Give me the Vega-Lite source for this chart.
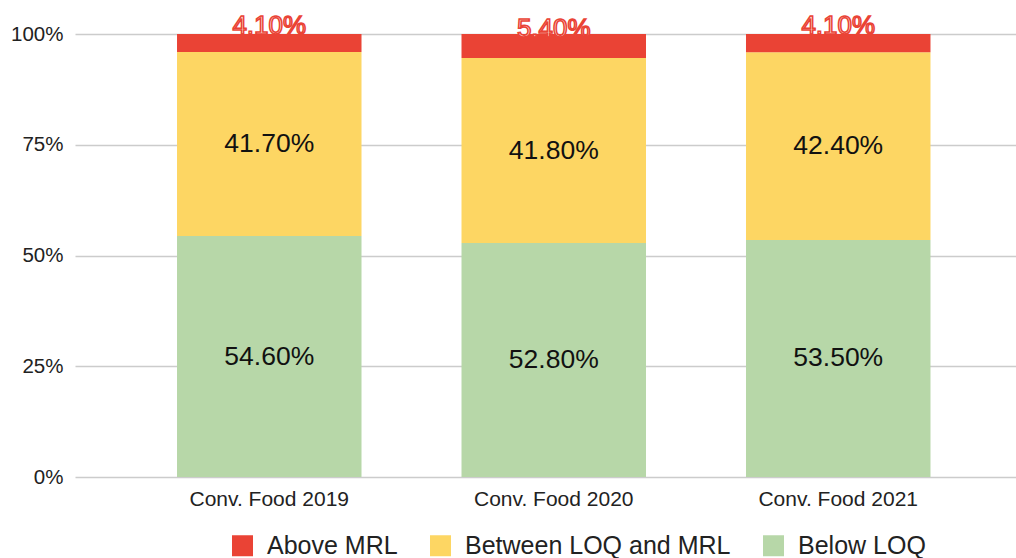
{
  "$schema": "https://vega.github.io/schema/vega-lite/v6.json",
  "width": 941,
  "height": 443,
  "autosize": {"type": "none"},
  "padding": {"left": 75, "top": 34, "right": 0, "bottom": 81},
  "background": "white",
  "config": {
    "font": "Liberation Sans",
    "view": {"stroke": null}
  },
  "data": {
    "values": [
      {"label": "Conv. Food 2019", "category": "Below LOQ", "value": 54.6, "order": 1},
      {"label": "Conv. Food 2019", "category": "Between LOQ and MRL", "value": 41.7, "order": 2},
      {"label": "Conv. Food 2019", "category": "Above MRL", "value": 4.1, "order": 3},
      {"label": "Conv. Food 2020", "category": "Below LOQ", "value": 52.8, "order": 1},
      {"label": "Conv. Food 2020", "category": "Between LOQ and MRL", "value": 41.8, "order": 2},
      {"label": "Conv. Food 2020", "category": "Above MRL", "value": 5.4, "order": 3},
      {"label": "Conv. Food 2021", "category": "Below LOQ", "value": 53.5, "order": 1},
      {"label": "Conv. Food 2021", "category": "Between LOQ and MRL", "value": 42.4, "order": 2},
      {"label": "Conv. Food 2021", "category": "Above MRL", "value": 4.1, "order": 3}
    ]
  },
  "transform": [
    {"stack": "value", "groupby": ["label"], "sort": [{"field": "order", "order": "ascending"}], "offset": "normalize", "as": ["y0", "y1"]},
    {"calculate": "(datum.y0 + datum.y1) / 2", "as": "ymid"},
    {"calculate": "format(datum.value, '.2f') + '%'", "as": "txt"}
  ],
  "encoding": {
    "x": {
      "field": "label",
      "type": "nominal",
      "sort": null,
      "scale": {"paddingInner": 0.3515, "paddingOuter": 0.3296, "align": 0.544},
      "axis": {
        "title": null,
        "labelAngle": 0,
        "labelFontSize": 21,
        "labelColor": "#222222",
        "labelPadding": 11,
        "ticks": false,
        "domain": false
      }
    }
  },
  "layer": [
    {
      "mark": {"type": "bar"},
      "encoding": {
        "y": {
          "field": "y0",
          "type": "quantitative",
          "scale": {"domain": [0, 1], "nice": false},
          "axis": {
            "title": null,
            "values": [0, 0.25, 0.5, 0.75, 1],
            "format": ".0%",
            "labelFontSize": 20.5,
            "labelColor": "#222222",
            "labelPadding": 12,
            "ticks": false,
            "domain": false,
            "gridColor": "#cccccc",
            "gridWidth": 1.5
          }
        },
        "y2": {"field": "y1"},
        "color": {
          "field": "category",
          "type": "nominal",
          "scale": {
            "domain": ["Above MRL", "Between LOQ and MRL", "Below LOQ"],
            "range": ["#EA4335", "#FDD663", "#B7D7A8"]
          },
          "legend": {
            "title": null,
            "orient": "none",
            "direction": "horizontal",
            "legendX": 155,
            "legendY": 499,
            "symbolType": "square",
            "symbolSize": 441,
            "symbolStrokeWidth": 0,
            "symbolOpacity": 1,
            "labelFontSize": 25,
            "labelLimit": 500,
            "labelColor": "#222222",
            "labelOffset": 12,
            "columnPadding": 30,
            "padding": 0
          }
        }
      }
    },
    {
      "mark": {"type": "rule", "color": "#333333", "strokeWidth": 2, "x": 0, "x2": 941},
      "encoding": {"y": {"datum": 0}}
    },
    {
      "transform": [{"filter": "datum.category != 'Above MRL'"}],
      "mark": {"type": "text", "fontSize": 26.5, "color": "#111111", "baseline": "middle", "align": "center"},
      "encoding": {
        "y": {"field": "ymid", "type": "quantitative"},
        "text": {"field": "txt"}
      }
    },
    {
      "transform": [{"filter": "datum.category == 'Above MRL'"}],
      "mark": {"type": "text", "fontSize": 26, "fill": "#FBE3E1", "stroke": "#EA4335", "strokeWidth": 1.5, "baseline": "middle", "align": "center", "dy": -17},
      "encoding": {
        "y": {"field": "ymid", "type": "quantitative"},
        "text": {"field": "txt"}
      }
    }
  ]
}
